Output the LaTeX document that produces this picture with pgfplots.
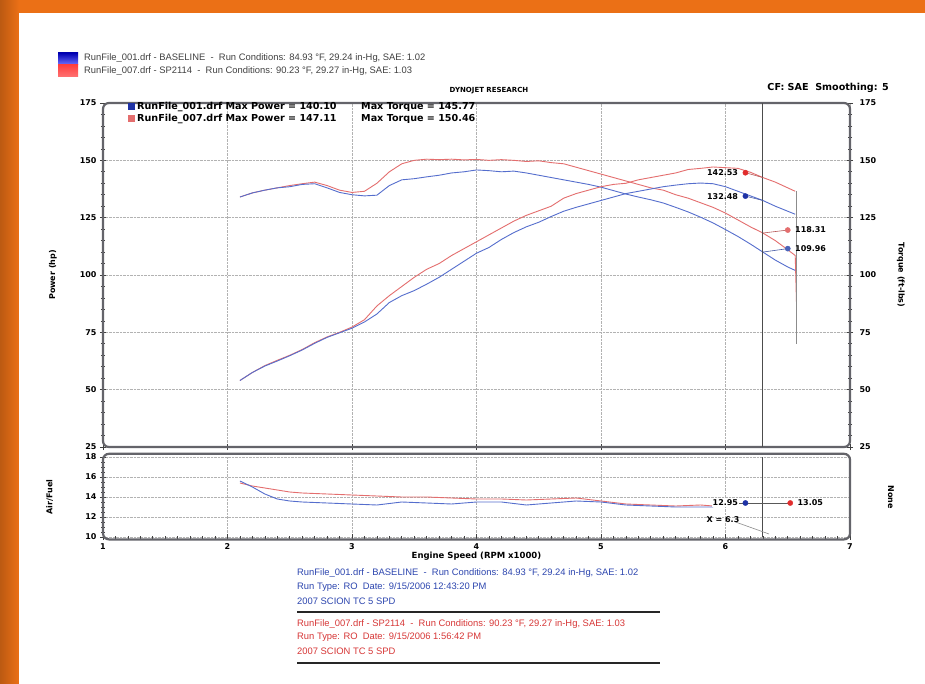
\documentclass[border=0pt]{standalone}
\usepackage{fontspec}
\usepackage{pgfplots}
\pgfplotsset{compat=1.18}
\setmainfont{Liberation Sans}
\newfontfamily\dv{DejaVu Sans}
\definecolor{runblue}{RGB}{85,110,205}
\definecolor{runred}{RGB}{228,110,110}
\definecolor{dotblue}{RGB}{30,50,165}
\definecolor{dotred}{RGB}{225,45,45}
\definecolor{framec}{RGB}{100,100,106}
\definecolor{orng}{RGB}{235,112,22}
\definecolor{txtblue}{RGB}{45,70,175}
\definecolor{txtred}{RGB}{215,55,55}
\newcommand{\tl}{\dv\bfseries\fontsize{8}{9}\selectfont}
\newcommand{\legf}{\dv\bfseries\fontsize{9.6}{11}\selectfont}
\newcommand{\runf}{\fontsize{9.4}{11}\selectfont}

\pgfplotstableread{
rpm hp
2.10 54.0
2.20 57.5
2.30 60.5
2.40 62.8
2.50 65.0
2.60 67.5
2.70 70.5
2.80 73.0
2.90 75.0
3.00 77.3
3.10 80.5
3.20 86.5
3.30 91.0
3.40 95.0
3.50 99.0
3.60 102.5
3.70 105.0
3.80 108.5
3.90 111.5
4.00 114.5
4.10 117.5
4.20 120.5
4.30 123.5
4.40 126.0
4.50 128.0
4.60 130.0
4.70 133.5
4.80 135.5
4.90 137.0
5.00 138.5
5.10 139.5
5.20 140.0
5.30 141.5
5.40 142.5
5.50 143.5
5.60 144.5
5.70 146.0
5.80 146.5
5.90 147.1
6.00 146.8
6.10 146.5
6.20 144.8
6.30 142.5
6.40 140.5
6.50 138.0
6.56 136.5
}\redpower

\pgfplotstableread{
rpm hp
2.10 54.0
2.20 57.5
2.30 60.3
2.40 62.5
2.50 64.8
2.60 67.3
2.70 70.2
2.80 72.8
2.90 74.8
3.00 76.8
3.10 79.5
3.20 83.0
3.30 88.0
3.40 91.0
3.50 93.2
3.60 96.0
3.70 99.0
3.80 102.5
3.90 106.0
4.00 109.5
4.10 112.0
4.20 115.5
4.30 118.5
4.40 121.0
4.50 123.0
4.60 125.5
4.70 127.8
4.80 129.5
4.90 131.0
5.00 132.5
5.10 134.0
5.20 135.5
5.30 136.5
5.40 137.5
5.50 138.5
5.60 139.2
5.70 139.8
5.80 140.1
5.90 139.8
6.00 138.5
6.10 136.5
6.20 134.5
6.30 132.5
6.40 130.0
6.50 127.8
6.56 126.5
}\bluepower

\pgfplotstableread{
rpm tq
2.10 134.0
2.20 135.8
2.30 137.0
2.40 138.0
2.50 139.0
2.60 139.8
2.70 140.5
2.80 139.0
2.90 137.0
3.00 136.0
3.10 136.5
3.20 140.0
3.30 145.0
3.40 148.5
3.50 150.0
3.60 150.5
3.70 150.3
3.80 150.5
3.90 150.2
4.00 150.4
4.10 150.0
4.20 150.3
4.30 150.0
4.40 149.5
4.50 149.8
4.60 149.0
4.70 148.5
4.80 147.0
4.90 145.5
5.00 144.0
5.10 142.5
5.20 141.0
5.30 139.5
5.40 138.0
5.50 137.0
5.60 135.0
5.70 133.5
5.80 131.5
5.90 129.5
6.00 127.0
6.10 124.0
6.20 121.0
6.30 118.3
6.40 115.0
6.50 111.0
6.56 108.5
6.57 88.0
}\redtorque

\pgfplotstableread{
rpm tq
2.10 134.0
2.20 135.8
2.30 137.0
2.40 138.0
2.50 138.5
2.60 139.5
2.70 139.8
2.80 138.0
2.90 136.0
3.00 135.0
3.10 134.5
3.20 134.8
3.30 139.0
3.40 141.5
3.50 142.0
3.60 142.8
3.70 143.5
3.80 144.5
3.90 145.0
4.00 145.8
4.10 145.5
4.20 145.0
4.30 145.3
4.40 144.5
4.50 143.5
4.60 142.5
4.70 141.5
4.80 140.5
4.90 139.5
5.00 138.3
5.10 136.8
5.20 135.3
5.30 134.0
5.40 132.8
5.50 131.4
5.60 129.5
5.70 127.5
5.80 125.2
5.90 122.7
6.00 119.8
6.10 116.8
6.20 113.5
6.30 110.0
6.40 106.5
6.50 103.5
6.56 102.0
}\bluetorque

\pgfplotstableread{
rpm af
2.10 15.4
2.20 15.1
2.30 14.9
2.40 14.7
2.50 14.5
2.60 14.4
2.80 14.3
3.00 14.2
3.20 14.1
3.40 14.0
3.60 14.0
3.80 13.9
4.00 13.8
4.20 13.8
4.40 13.7
4.60 13.8
4.80 13.9
5.00 13.6
5.20 13.3
5.40 13.2
5.60 13.1
5.80 13.2
5.90 13.1
}\redaf

\pgfplotstableread{
rpm af
2.10 15.6
2.20 15.0
2.30 14.3
2.40 13.8
2.50 13.6
2.60 13.5
2.80 13.4
3.00 13.3
3.20 13.2
3.40 13.5
3.60 13.4
3.80 13.3
4.00 13.5
4.20 13.5
4.40 13.2
4.60 13.4
4.80 13.6
5.00 13.5
5.20 13.2
5.40 13.1
5.60 13.0
5.80 13.0
5.90 13.0
}\blueaf

\begin{document}
\begin{tikzpicture}[x=1pt,y=-1pt]
\useasboundingbox (0,0) rectangle (925,684);
\fill[orng] (0,0) rectangle (925,684);
\shade[left color=orng!80!black, right color=orng] (0,0) rectangle (19,684);
\fill[white] (19,13) rectangle (925,684);

% header icon and run lines
\shade[top color=blue!70!black, bottom color=blue!55] (58,53) rectangle (78,65);
\shade[top color=red!75, bottom color=red!55!white] (58,65) rectangle (78,77);
\node[anchor=west, inner sep=0pt, font=\runf, text=black!75] at (84,58)
  {RunFile\_001.drf - BASELINE \ - \ Run Conditions: 84.93 °F, 29.24 in-Hg, SAE: 1.02};
\node[anchor=west, inner sep=0pt, font=\runf, text=black!75] at (84,71)
  {RunFile\_007.drf - SP2114 \ - \ Run Conditions: 90.23 °F, 29.27 in-Hg, SAE: 1.03};
\node[inner sep=0pt, font=\dv\bfseries\fontsize{7}{8}\selectfont] at (489,91) {DYNOJET RESEARCH};
\node[anchor=east, inner sep=0pt, font=\dv\bfseries\fontsize{9.6}{11}\selectfont] at (889,88) {CF: SAE \ Smoothing: 5};

% ---------------- main power / torque axis
\begin{axis}[
  scale only axis, width=747pt, height=344pt,
  at={(103pt,-447pt)}, anchor=south west,
  xmin=1, xmax=7, ymin=25, ymax=175,
  xtick={1,2,...,7}, xticklabels={},
  ytick={25,50,...,175}, minor y tick num=4,
  xtick pos=bottom, ytick pos=both, yticklabel pos=left,
  tick align=center, major tick length=6pt, minor tick length=4pt,
  tick style={black!75, line width=0.7pt},
  grid=major, major grid style={densely dotted, black!30},
  axis line style={draw=none},
  ticklabel style={font=\tl},
  /pgf/number format/assume math mode=true,
  ylabel={Power (hp)},
  ylabel style={font=\tl, at={(axis description cs:-0.057,0.5)}},
  clip=false,
]
\draw[framec, line width=2.2pt, rounded corners=6pt] (rel axis cs:0,0) rectangle (rel axis cs:1,1);
\addplot[runred, line width=0.9pt] table[x=rpm, y=tq] {\redtorque};
\addplot[runblue, line width=0.9pt] table[x=rpm, y=tq] {\bluetorque};
\addplot[runred, line width=0.9pt] table[x=rpm, y=hp] {\redpower};
\addplot[runblue, line width=0.9pt] table[x=rpm, y=hp] {\bluepower};
\addplot[black!45, line width=0.6pt] coordinates {(6.565,136.5) (6.565,70)};
\addplot[black!70, line width=1.1pt] coordinates {(6.3,25) (6.3,175)};
% cursor leaders
\addplot[runred!80!black, line width=0.6pt] coordinates {(6.16,144.6) (6.3,142.5)};
\addplot[runblue!80!black, line width=0.6pt] coordinates {(6.16,134.4) (6.3,132.5)};
\addplot[runred!80!black, line width=0.6pt] coordinates {(6.3,118.3) (6.5,119.6)};
\addplot[runblue!80!black, line width=0.6pt] coordinates {(6.3,110.0) (6.5,111.5)};
\addplot[only marks, mark=*, mark size=2.6pt, dotred] coordinates {(6.16,144.6)};
\addplot[only marks, mark=*, mark size=2.6pt, dotblue] coordinates {(6.16,134.4)};
\addplot[only marks, mark=*, mark size=2.6pt, runred] coordinates {(6.5,119.6)};
\addplot[only marks, mark=*, mark size=2.6pt, runblue!90!black] coordinates {(6.5,111.5)};
\node[anchor=east, font=\tl, inner sep=1pt] at (axis cs:6.11,144.6) {142.53};
\node[anchor=east, font=\tl, inner sep=1pt] at (axis cs:6.11,134.4) {132.48};
\node[anchor=west, font=\tl, inner sep=1pt] at (axis cs:6.55,119.6) {118.31};
\node[anchor=west, font=\tl, inner sep=1pt] at (axis cs:6.55,111.5) {109.96};
\end{axis}

% right torque axis
\begin{axis}[
  scale only axis, width=747pt, height=344pt,
  at={(103pt,-447pt)}, anchor=south west,
  xmin=1, xmax=7, ymin=25, ymax=175,
  axis x line=none, axis y line*=right,
  axis line style={draw=none},
  ytick={25,50,...,175}, minor y tick num=4,
  tick align=center, major tick length=0pt, minor tick length=0pt,
  ticklabel style={font=\tl},
  yticklabel style={xshift=6pt},
  /pgf/number format/assume math mode=true,
  ylabel={Torque (ft-lbs)},
  ylabel style={font=\tl, rotate=180, at={(axis description cs:1.058,0.5)}},
]
\end{axis}

% ---------------- air / fuel axis
\begin{axis}[
  scale only axis, width=747pt, height=80pt,
  at={(103pt,-537pt)}, anchor=south west,
  xmin=1, xmax=7, ymin=10, ymax=18,
  xtick={1,2,...,7}, ytick={10,12,...,18}, minor y tick num=3, minor x tick num=9,
  xtick pos=bottom, ytick pos=left,
  tick align=center, major tick length=6pt, minor tick length=3pt,
  tick style={black!75, line width=0.7pt},
  grid=major, major grid style={densely dotted, black!30},
  axis line style={draw=none},
  ticklabel style={font=\tl},
  /pgf/number format/assume math mode=true,
  xlabel={Engine Speed (RPM x1000)},
  xlabel style={font=\dv\bfseries\fontsize{8.5}{10}\selectfont, yshift=4pt},
  ylabel={Air/Fuel},
  ylabel style={font=\tl, at={(axis description cs:-0.062,0.5)}},
  clip=false,
]
\draw[framec, line width=2.2pt, rounded corners=6pt] (rel axis cs:0,-0.03) rectangle (rel axis cs:1,1.04);
\addplot[runred, line width=0.9pt] table[x=rpm, y=af] {\redaf};
\addplot[runblue, line width=0.9pt] table[x=rpm, y=af] {\blueaf};
\addplot[black!70, line width=1.1pt] coordinates {(6.3,10) (6.3,18)};
\addplot[black!65, line width=0.8pt] coordinates {(5.9,13.4) (6.52,13.4)};
\addplot[black!45, line width=0.6pt] coordinates {(6.08,11.5) (6.35,10.3)};
\addplot[only marks, mark=*, mark size=2.6pt, dotblue] coordinates {(6.16,13.4)};
\addplot[only marks, mark=*, mark size=2.6pt, dotred] coordinates {(6.52,13.4)};
\node[anchor=east, font=\tl, inner sep=1pt, fill=white] at (axis cs:6.11,13.4) {12.95};
\node[anchor=west, font=\tl, inner sep=1pt] at (axis cs:6.57,13.4) {13.05};
\node[font=\tl, inner sep=1pt] at (axis cs:5.98,11.7) {X = 6.3};
\node[font=\tl, rotate=-90] at (axis description cs:1.055,0.5) {None};
\end{axis}

% legend inside main plot
\fill[dotblue] (128,103) rectangle (135,110);
\fill[runred] (128,115) rectangle (135,122);
\node[anchor=west, inner sep=0pt, font=\legf] at (137,107)
  {RunFile\_001.drf Max Power = 140.10};
\node[anchor=west, inner sep=0pt, font=\legf] at (137,119)
  {RunFile\_007.drf Max Power = 147.11};
\node[anchor=west, inner sep=0pt, font=\legf] at (361,107)
  {Max Torque = 145.77};
\node[anchor=west, inner sep=0pt, font=\legf] at (361,119)
  {Max Torque = 150.46};

% footer
\begin{scope}[every node/.style={anchor=west, inner sep=0pt, font=\runf}]
\node[text=txtblue] at (297,573) {RunFile\_001.drf - BASELINE \ - \ Run Conditions: 84.93 °F, 29.24 in-Hg, SAE: 1.02};
\node[text=txtblue] at (297,587) {Run Type: RO \ Date: 9/15/2006 12:43:20 PM};
\node[text=txtblue] at (297,601) {2007 SCION TC 5 SPD};
\node[text=txtred] at (297,624) {RunFile\_007.drf - SP2114 \ - \ Run Conditions: 90.23 °F, 29.27 in-Hg, SAE: 1.03};
\node[text=txtred] at (297,637) {Run Type: RO \ Date: 9/15/2006 1:56:42 PM};
\node[text=txtred] at (297,651) {2007 SCION TC 5 SPD};
\end{scope}
\draw[black!85, line width=1.6pt] (297,612) -- (660,612);
\draw[black!85, line width=1.6pt] (297,663) -- (660,663);
\end{tikzpicture}
\end{document}
